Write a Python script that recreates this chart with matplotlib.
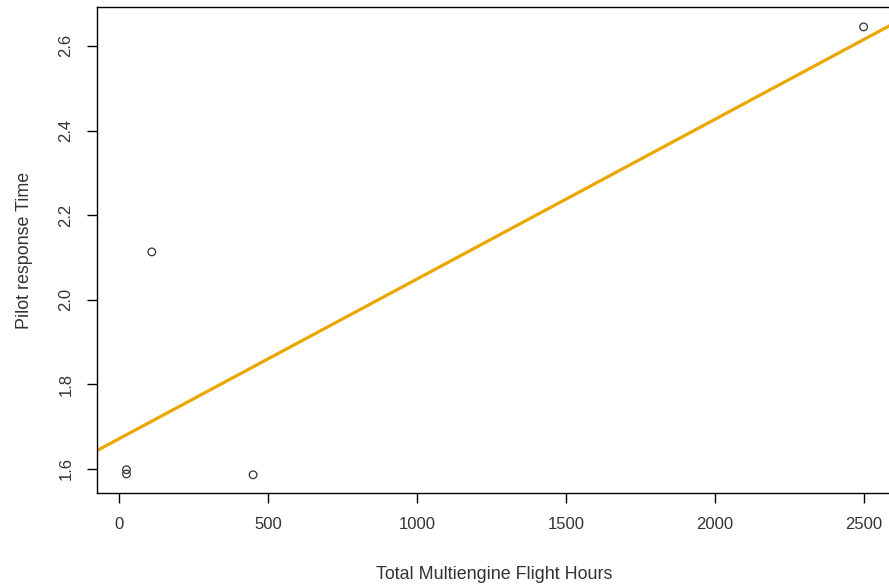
import matplotlib.pyplot as plt
import numpy as np

# data
flight_hours = [25, 25, 110, 450, 2500]
response_time = [1.598, 1.588, 2.113, 1.586, 2.645]
x_ticks = [0, 500, 1000, 1500, 2000, 2500]
y_ticks = [1.6, 1.8, 2.0, 2.2, 2.4, 2.6]

plt.rcParams['font.family'] = ['Liberation Sans', 'DejaVu Sans']

fig = plt.figure(figsize=(8.89, 5.85), dpi=100)
ax = fig.add_axes([0.1091, 0.1573, 0.8925, 0.8307])

ax.scatter(flight_hours, response_time, s=30, facecolors='none',
           edgecolors='#333333', linewidths=0.9, zorder=3)

# least squares fit line across the whole axis
slope, intercept = np.polyfit(flight_hours, response_time, 1)
xlim = (-74, 2590)
xs = np.array(xlim)
ax.plot(xs, intercept + slope * xs, color='#EBA600', lw=2.3, zorder=2)

ax.set_xlim(*xlim)
ax.set_ylim(1.543, 2.692)
ax.set_xticks(x_ticks)
ax.set_yticks(y_ticks)
ax.set_yticklabels([f'{v:.1f}' for v in y_ticks], rotation=90, va='center')
ax.tick_params(direction='out', length=7, width=1, labelsize=12,
               colors='black', pad=10)
for lbl in ax.get_xticklabels() + ax.get_yticklabels():
    lbl.set_color('#333333')
ax.spines['right'].set_visible(False)
for s in ['left', 'top', 'bottom']:
    ax.spines[s].set_linewidth(1)

ax.set_xlabel('Total Multiengine Flight Hours', fontsize=12.9, color='#333333', labelpad=25)
ax.set_ylabel('Pilot response Time', fontsize=12.9, color='#333333', labelpad=18)

fig.savefig('out.png', dpi=100)
